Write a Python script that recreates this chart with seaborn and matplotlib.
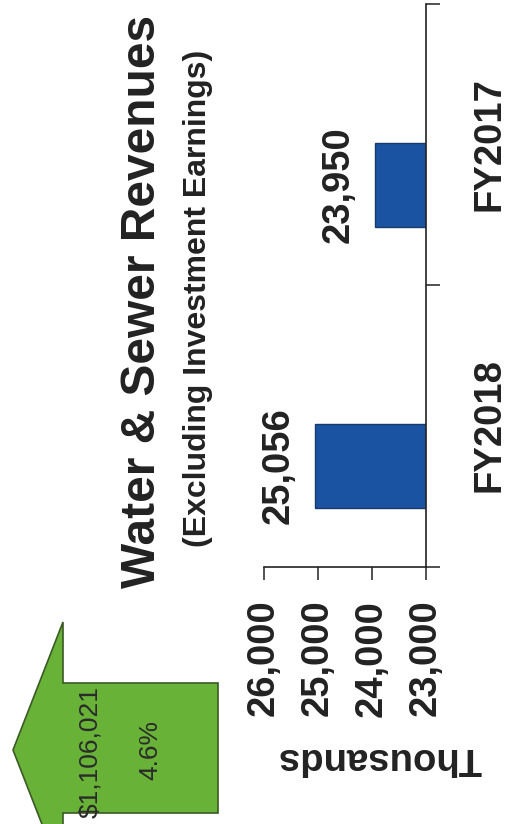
import matplotlib
matplotlib.use("Agg")
import matplotlib.pyplot as plt
import seaborn as sns
import pandas as pd
from matplotlib.patches import Polygon
from matplotlib.ticker import FixedLocator

# ---- data ----
categories = ["FY2017", "FY2018"]
revenues_thousands = [23950, 25056]
value_ticks = [23000, 24000, 25000, 26000]
value_tick_labels = ["23,000", "24,000", "25,000", "26,000"]
title_text = "Water & Sewer Revenues"
subtitle_text = "(Excluding Investment Earnings)"
axis_label = "Thousands"
change_amount = "$1,106,021"
change_pct = "4.6%"

df = pd.DataFrame({"Year": categories, "Revenue": revenues_thousands})

sns.set_style("white")
plt.rcParams["font.family"] = ["Liberation Sans", "DejaVu Sans"]

W, H = 507, 824
fig = plt.figure(figsize=(W / 100, H / 100), dpi=100)
fig.patch.set_facecolor("white")

def fx(px):
    return px / W

def fy(py):
    return 1 - py / H

ax = fig.add_axes([fx(264), fy(567), (426 - 264) / W, (567 - 4) / H])

bar_color = "#1B53A3"
sns.barplot(data=df, x="Revenue", y="Year", order=categories, orient="h",
            color=bar_color, saturation=1, width=0.3,
            edgecolor="#1a3a6a", linewidth=1.0, ax=ax)

# value axis runs right-to-left (rotated chart)
ax.set_xlim(value_ticks[-1], value_ticks[0])
# category axis with bars offset inside slots
ylo, yhi = 1.359, -0.644
ax.set_ylim(ylo, yhi)

for s in ["top", "left"]:
    ax.spines[s].set_visible(False)
for s in ["right", "bottom"]:
    ax.spines[s].set_visible(True)
    ax.spines[s].set_color("#222222")
    ax.spines[s].set_linewidth(1.2)

ax.set_xticks(value_ticks)
ax.set_xticklabels(value_tick_labels, rotation=90, fontsize=27.5,
                   fontweight="bold", color="#222222")
ax.tick_params(axis="x", bottom=True, direction="out", length=9.5,
               width=1.1, color="#222222", pad=14)

# category labels centered in slots, boundaries as minor ticks
slot_offset = 0.145
ax.yaxis.tick_right()
ax.set_yticks([i - slot_offset for i in range(len(categories))])
ax.set_yticklabels(categories, rotation=90, fontsize=27.5,
                   fontweight="bold", color="#222222", va="center")
ax.yaxis.set_minor_locator(FixedLocator([yhi, yhi + 1.0, ylo]))
ax.tick_params(axis="y", which="major", length=0, pad=33, right=True, left=False)
ax.tick_params(axis="y", which="minor", length=10, width=1.1,
               color="#222222", direction="out", right=True, left=False)
ax.set_xlabel("")
ax.set_ylabel("")

# value labels
for i, v in enumerate(revenues_thousands):
    ax.annotate(f"{v:,}", xy=(v, i), xytext=(-13, 0), textcoords="offset points",
                ha="right", va="center", rotation=90, fontsize=27.5,
                fontweight="bold", color="#222222")

# axis title (upside-down due to rotation)
fig.text(fx(380), fy(758), axis_label, rotation=180, ha="center", va="center",
         fontsize=27.5, fontweight="bold", color="#222222")

# titles
fig.text(fx(143), fy(301), title_text, rotation=90, ha="center", va="center",
         fontsize=34.5, fontweight="bold", color="#222222")
fig.text(fx(198), fy(298), subtitle_text, rotation=90, ha="center", va="center",
         fontsize=23, fontweight="bold", color="#222222")

# green change arrow
arrow_pts = [(13, 750), (63, 622), (63, 683), (218, 683), (218, 813),
             (63, 813), (63, 878)]
poly = Polygon([(fx(x), fy(y)) for x, y in arrow_pts], closed=True,
               transform=fig.transFigure, facecolor="#67B237",
               edgecolor="#3b5a25", linewidth=1.2, zorder=1)
fig.patches.append(poly)
fig.text(fx(90), fy(752), change_amount, rotation=90, ha="center", va="center",
         fontsize=19, color="#2a2a2a", zorder=2)
fig.text(fx(150), fy(750), change_pct, rotation=90, ha="center", va="center",
         fontsize=19, color="#2a2a2a", zorder=2)

fig.savefig("out.png", dpi=100, facecolor="white")
